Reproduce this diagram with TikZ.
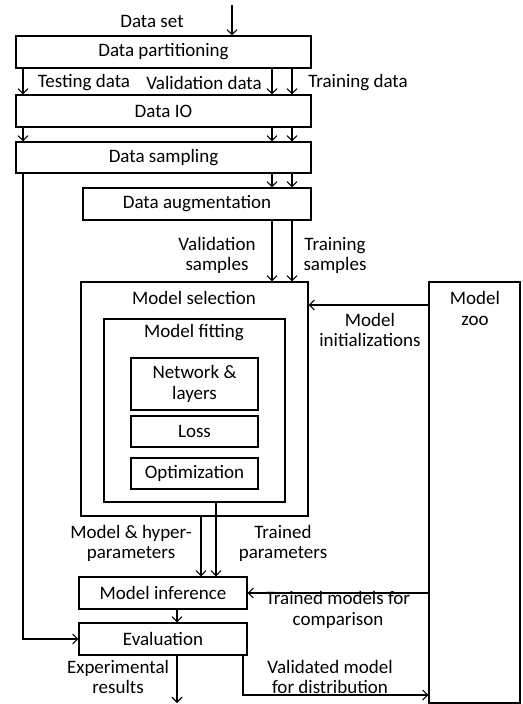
\documentclass[tikz,border=0pt]{standalone}
\usepackage{fontspec}
\setmainfont{Carlito}
\usetikzlibrary{arrows.meta}
\begin{document}
\begin{tikzpicture}[x=1pt,y=-1pt,
  every node/.style={font=\fontsize{19}{20.5}\selectfont, inner sep=0pt},
  box/.style={draw, line width=1.1pt, anchor=center},
  lbl/.style={align=center, anchor=center},
  arr/.style={line width=1.1pt, -{Straight Barb[length=5pt,width=10pt,line width=1.1pt]}},
  ln/.style={line width=1.1pt}]
\useasboundingbox (0,0) rectangle (522,704);
% boxes
\node[box, minimum width=295pt, minimum height=32pt] (dp) at (163.5,52) {Data partitioning};
\node[box, minimum width=295pt, minimum height=32pt] (io) at (163.5,111) {Data IO};
\node[box, minimum width=295pt, minimum height=31pt] (ds) at (163.5,157.5) {Data sampling};
\node[box, minimum width=228pt, minimum height=32pt] (da) at (197,204) {Data augmentation};
\node[box, minimum width=227pt, minimum height=234pt] (ms) at (194.5,399) {};
\node[lbl] (mslbl) at (194,298) {Model selection};
\node[box, minimum width=181pt, minimum height=183pt] (mf) at (194.5,410.5) {};
\node[lbl] (mflbl) at (194,333) {Model fitting};
\node[box, minimum width=127pt, minimum height=52pt, align=center] (nl) at (194.5,384) {Network \&\\layers};
\node[box, minimum width=127pt, minimum height=31pt] (loss) at (194.5,431.5) {Loss};
\node[box, minimum width=127pt, minimum height=31pt] (opt) at (194.5,473.5) {Optimization};
\node[box, minimum width=91pt, minimum height=421pt] (mz) at (474.5,492.5) {};
\node[lbl] (mzlbl) at (475,308.5) {Model\\zoo};
\node[box, minimum width=168pt, minimum height=32pt] (mi) at (163,593) {Model inference};
\node[box, minimum width=168pt, minimum height=32pt] (ev) at (163,639) {Evaluation};
% x positions / free ends
\coordinate (top) at (232,5);
\coordinate (xa) at (23,0);
\coordinate (xb) at (272,0);
\coordinate (xc) at (292,0);
\coordinate (xd) at (201,0);
\coordinate (xe) at (216,0);
\coordinate (xf) at (177,0);
\coordinate (xg) at (243,0);
\coordinate (yinit) at (0,305);
\coordinate (yval) at (0,695);
\coordinate (bot) at (177,703);
% connectors
\draw[arr] (top) -- (dp.north -| top);
\foreach \c in {xa,xb,xc}{
  \draw[arr] (dp.south -| \c) -- (io.north -| \c);
  \draw[arr] (io.south -| \c) -- (ds.north -| \c);
}
\foreach \c in {xb,xc}{
  \draw[arr] (ds.south -| \c) -- (da.north -| \c);
  \draw[arr] (da.south -| \c) -- (ms.north -| \c);
}
\draw[arr] (ds.south -| xa) |- (ev.west);
\draw[arr] (mz.west |- yinit) -- (ms.east |- yinit);
\draw[arr] (ms.south -| xd) -- (mi.north -| xd);
\draw[arr] (mf.south -| xe) -- (mi.north -| xe);
\draw[arr] (mz.west |- mi.east) -- (mi.east);
\draw[arr] (mi.south -| xf) -- (ev.north -| xf);
\draw[arr] (ev.south -| xf) -- (bot);
\draw[arr] (ev.south -| xg) |- (mz.west |- yval);
% labels
\node[lbl] (l1) at (152,21) {Data set};
\node[lbl] (l2) at (84,83) {Testing data};
\node[lbl] (l3) at (204,83) {Validation data};
\node[lbl] (l4) at (358,83) {Training data};
\node[lbl] (l5) at (217,255.5) {Validation\\samples};
\node[lbl] (l6) at (335,255.5) {Training\\samples};
\node[lbl] (l7) at (370,330) {Model\\initializations};
\node[lbl] (l8) at (131,543.5) {Model \& hyper-\\parameters};
\node[lbl] (l9) at (283,543.5) {Trained\\parameters};
\node[lbl] (l10) at (338,610) {Trained models for\\comparison};
\node[lbl] (l11) at (118,677) {Experimental\\results};
\node[lbl] (l12) at (330,677) {Validated model\\for distribution};
\end{tikzpicture}
\end{document}
